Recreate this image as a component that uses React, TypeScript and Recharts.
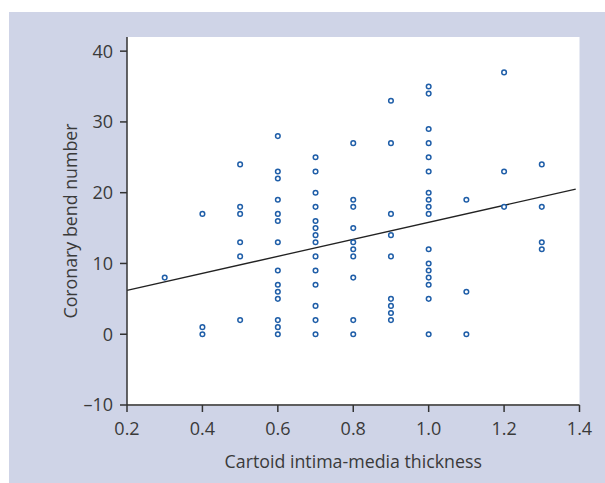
import React from "react";
import {
  ScatterChart,
  Scatter,
  XAxis,
  YAxis,
  CartesianGrid,
  ReferenceLine,
} from "recharts";

// Cartoid intima-media thickness groups and coronary bend numbers
const bendsAt03 = [8];
const bendsAt04 = [17, 1, 0];
const bendsAt05 = [24, 18, 17, 13, 11, 2];
const bendsAt06 = [28, 23, 22, 19, 17, 16, 13, 9, 7, 6, 5, 2, 1, 0];
const bendsAt07 = [25, 23, 20, 18, 16, 15, 14, 13, 11, 9, 7, 4, 2, 0];
const bendsAt08 = [27, 19, 18, 15, 13, 12, 11, 8, 2, 0];
const bendsAt09 = [33, 27, 17, 14, 11, 5, 4, 3, 2];
const bendsAt10 = [35, 34, 29, 27, 25, 23, 20, 19, 18, 17, 12, 10, 9, 8, 7, 5, 0];
const bendsAt11 = [19, 6, 0];
const bendsAt12 = [37, 23, 18];
const bendsAt13 = [24, 18, 13, 12];

const thicknessGroups: [number, number[]][] = [
  [0.3, bendsAt03],
  [0.4, bendsAt04],
  [0.5, bendsAt05],
  [0.6, bendsAt06],
  [0.7, bendsAt07],
  [0.8, bendsAt08],
  [0.9, bendsAt09],
  [1.0, bendsAt10],
  [1.1, bendsAt11],
  [1.2, bendsAt12],
  [1.3, bendsAt13],
];

const fitLineStart = { x: 0.2, y: 6.2 };
const fitLineEnd = { x: 1.39, y: 20.5 };

const xTicks = [0.2, 0.4, 0.6, 0.8, 1.0, 1.2, 1.4];
const yTicks = [-10, 0, 10, 20, 30, 40];

const points = thicknessGroups.flatMap(([x, ys]) => ys.map((y) => ({ x, y })));

const FONT = "'Open Sans', 'Noto Sans', sans-serif";
const TEXT = "#3a3a3a";

const Ring = (props: any) => {
  const { cx, cy } = props;
  if (cx == null || cy == null) return null;
  return <circle cx={cx} cy={cy} r={2.3} fill="#fff" stroke="#1f5ea8" strokeWidth={1.5} />;
};

export default function App() {
  return (
    <div
      style={{
        position: "absolute",
        left: 9,
        top: 12,
        width: 596,
        height: 471,
        background: "#cfd4e7",
      }}
    >
      <ScatterChart
        width={596}
        height={471}
        margin={{ top: 25, right: 25.5, bottom: 8, left: 6 }}
      >
        <CartesianGrid horizontal={false} vertical={false} fill="#ffffff" stroke="none" />
        <XAxis
          type="number"
          dataKey="x"
          domain={[0.2, 1.4]}
          ticks={xTicks}
          tickFormatter={(v: number) => v.toFixed(1)}
          height={70}
          tickSize={7}
          tickMargin={10}
          axisLine={{ stroke: "#5e5e5e", strokeWidth: 2 }}
          tickLine={{ stroke: "#333", strokeWidth: 1.5 }}
          tick={{ fill: TEXT, fontSize: 18, fontFamily: FONT }}
          label={{
            value: "Cartoid intima-media thickness",
            position: "insideBottom",
            offset: 7,
            fill: TEXT,
            fontSize: 17.8,
            fontFamily: FONT,
          }}
        />
        <YAxis
          type="number"
          dataKey="y"
          domain={[-10, 42]}
          ticks={yTicks}
          tickFormatter={(v: number) => (v < 0 ? "\u2013" + Math.abs(v) : String(v))}
          width={112}
          tickSize={7}
          tickMargin={7}
          axisLine={{ stroke: "#333", strokeWidth: 1.5 }}
          tickLine={{ stroke: "#333", strokeWidth: 1.5 }}
          tick={{ fill: TEXT, fontSize: 18, fontFamily: FONT }}
          label={{
            value: "Coronary bend number",
            angle: -90,
            position: "center",
            fill: TEXT,
            fontSize: 17.8,
            fontFamily: FONT,
          }}
        />
        <ReferenceLine
          segment={[fitLineStart, fitLineEnd]}
          stroke="#222"
          strokeWidth={1.3}
          ifOverflow="visible"
        />
        <Scatter data={points} shape={<Ring />} isAnimationActive={false} />
      </ScatterChart>
    </div>
  );
}
